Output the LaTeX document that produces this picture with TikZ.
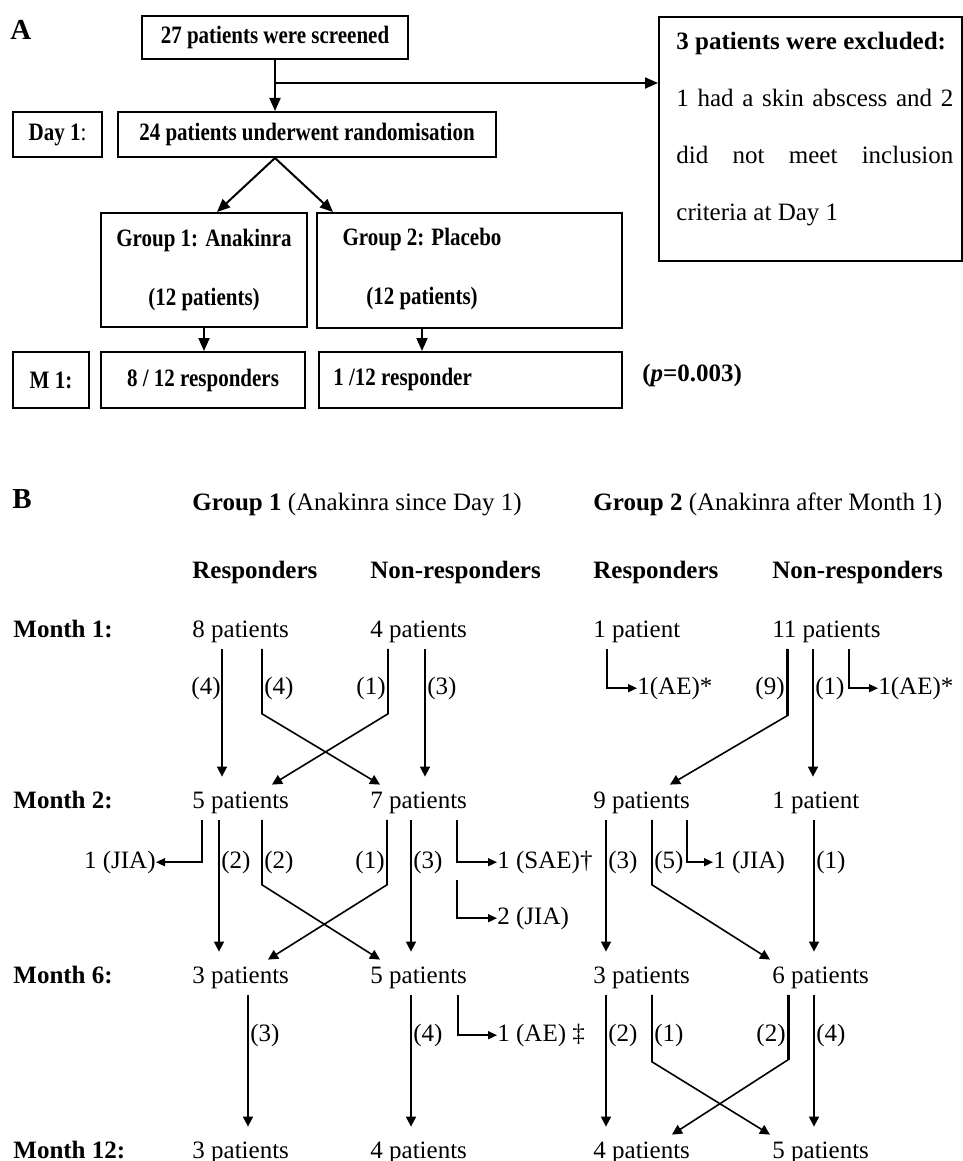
\documentclass[tikz,border=0pt]{standalone}
\usepackage{fontspec}
\setmainfont{Liberation Serif}
\newfontfamily\boxfont[FakeStretch=0.84]{Liberation Serif}
\usetikzlibrary{arrows.meta}

\begin{document}
\begin{tikzpicture}[x=0.5pt,y=-0.5pt,
    box/.style={draw,line width=1pt,inner sep=0pt,font={\fontsize{12.5}{15}\boxfont\bfseries}},
    arr/.style={line width=1pt,-{Triangle[length=6.5pt,width=5.5pt]}},
    flow/.style={line width=0.8pt,-{Triangle[length=5pt,width=5pt]}},
    straight/.style={flow,shorten >=4pt},
    side/.style={line width=0.8pt,-{Triangle[length=4.5pt,width=4pt]}},
    heavy/.style={line width=1.5pt},
    txt/.style={inner sep=0pt,font={\fontsize{12.5}{15}\selectfont}},
    pat/.style={txt,anchor=base west,inner ysep=3pt,text height=8.5pt,text depth=2.7pt},
    lbl/.style={txt,text height=8.5pt,text depth=2.7pt},
    hdr/.style={txt,anchor=base west},
    panel/.style={txt,anchor=base west,font={\fontsize{14.5}{16}\selectfont\bfseries}}]
    \useasboundingbox (0,0) rectangle (963,1161);

    % A: flow chart
    \node[panel] (labA) at (10,40) {A};
    \node[box,minimum width=133pt,minimum height=21.5pt] (screened) at (275,37.5) {27 patients were screened};
    \node[box,minimum width=44.5pt,minimum height=22.5pt] (day1) at (57.5,134.5) {Day 1\mdseries:};
    \node[box,minimum width=189pt,minimum height=22.5pt] (rand) at (307,134.5) {24 patients underwent randomisation};
    \node[box,minimum width=103pt,minimum height=57pt,align=center,
          font={\fontsize{12.5}{29.5}\boxfont\bfseries}] (grp1) at (204,270) {Group 1: Anakinra\\(12 patients)};
    \node[box,minimum width=152.5pt,minimum height=57.5pt] (grp2) at (469.5,270.5) {};
    \node[txt,align=center,font={\fontsize{12.5}{29.5}\boxfont\bfseries}] (grp2txt) at (422,268.5) {Group 2: Placebo\\(12 patients)};
    \node[box,minimum width=38pt,minimum height=28pt] (m1) at (51,380) {M 1:};
    \node[box,minimum width=102pt,minimum height=28pt] (resp1) at (203,380) {8 / 12 responders};
    \node[box,minimum width=151.5pt,minimum height=28pt] (resp2) at (470.5,380) {};
    \node[txt,anchor=west,font={\fontsize{12.5}{15}\boxfont\bfseries}] (resp2txt) at (333,379) {1 /12 responder};
    \node[hdr,font={\fontsize{12.5}{15}\selectfont\bfseries}] (pval) at (642,381) {(\textit{p}=0.003)};
    \node[box,anchor=north west,minimum width=151.5pt,minimum height=122pt] (excl) at (658,16) {};
    \node[txt,anchor=north west,text width=138.5pt,align=justify,
          font={\fontsize{12.5}{28.5}\selectfont}] (excltxt) at (676,32)
          {\textbf{3 patients were excluded:}\\1 had a skin abscess and 2\linebreak did not meet inclusion\linebreak criteria at Day 1};

    \coordinate (split) at (screened.south |- 0,83);
    \draw[arr] (screened.south) -- (screened.south |- rand.north);
    \draw[arr] (split) -- (split -| excl.west);
    \draw[arr] (screened.south |- rand.south) -- (217,0 |- grp1.north);
    \draw[arr] (screened.south |- rand.south) -- (333,0 |- grp2.north);
    \draw[arr] (grp1.south) -- (grp1.south |- resp1.north);
    \draw[arr] (grp2txt.south |- grp2.south) -- (grp2txt.south |- resp2.north);

    % B: follow-up
    \node[panel] (labB) at (12,508) {B};
    \node[hdr] (hd1) at (192,510) {\textbf{Group 1} (Anakinra since Day 1)};
    \node[hdr] (hd2) at (593,510) {\textbf{Group 2} (Anakinra after Month 1)};
    \node[hdr] (r1) at (192,578) {\textbf{Responders}};
    \node[hdr] (nr1) at (370,578) {\textbf{Non-responders}};
    \node[hdr] (r2) at (593,578) {\textbf{Responders}};
    \node[hdr] (nr2) at (772,578) {\textbf{Non-responders}};

    \node[hdr] (mo1) at (13,637) {\textbf{Month 1:}};
    \node[hdr] (mo2) at (13,808) {\textbf{Month 2:}};
    \node[hdr] (mo6) at (13,983) {\textbf{Month 6:}};
    \node[hdr] (mo12) at (13,1158) {\textbf{Month 12:}};

    \node[pat] (a1) at (192,637) {8 patients};
    \node[pat] (b1) at (370,637) {4 patients};
    \node[pat] (c1) at (593,637) {1 patient};
    \node[pat] (d1) at (772,637) {11 patients};
    \node[pat] (a2) at (192,808) {5 patients};
    \node[pat] (b2) at (370,808) {7 patients};
    \node[pat] (c2) at (593,808) {9 patients};
    \node[pat] (d2) at (772,808) {1 patient};
    \node[pat] (a6) at (192,983) {3 patients};
    \node[pat] (b6) at (370,983) {5 patients};
    \node[pat] (c6) at (593,983) {3 patients};
    \node[pat] (d6) at (772,983) {6 patients};
    \node[pat] (a12) at (192,1158) {3 patients};
    \node[pat] (b12) at (370,1158) {4 patients};
    \node[pat] (c12) at (593,1158) {4 patients};
    \node[pat] (d12) at (772,1158) {5 patients};

    % month 1 -> month 2
    \draw[straight] (222,0 |- a1.south) -- (222,0 |- a2.north);
    \draw[flow] (262,0 |- a1.south) -- ++(0,65) -- (380,0 |- b2.north);
    \draw[flow] (388,0 |- b1.south) -- ++(0,65) -- (272,0 |- a2.north);
    \draw[straight] (425,0 |- b1.south) -- (425,0 |- b2.north);
    \node[lbl,anchor=base east] (n1a) at (221,694) {(4)};
    \node[lbl,anchor=base west] (n1b) at (264,694) {(4)};
    \node[lbl,anchor=base east] (n1c) at (386,694) {(1)};
    \node[lbl,anchor=base west] (n1d) at (427,694) {(3)};

    \node[lbl,anchor=base west] (ae1) at (637,694) {1(AE)*};
    \node[lbl,anchor=base west] (ae2) at (878,694) {1(AE)*};
    \draw[side] (607,0 |- c1.south) |- (ae1.west);
    \draw[flow] (787,0 |- d1.south) -- ++(0,67) -- (670,0 |- c2.north);
    \draw[heavy] (787,0 |- d1.south) -- ++(0,67);
    \draw[straight] (813,0 |- d1.south) -- (813,0 |- d2.north);
    \draw[side] (849,0 |- d1.south) |- (ae2.west);
    \node[lbl,anchor=base east] (n1e) at (785,694) {(9)};
    \node[lbl,anchor=base west] (n1f) at (815,694) {(1)};

    % month 2 -> month 6
    \node[lbl,anchor=base east] (jia1) at (156,868) {1 (JIA)};
    \node[lbl,anchor=base west] (sae) at (497,868) {1 (SAE)†};
    \node[lbl,anchor=base west] (jia2) at (497,924) {2 (JIA)};
    \node[lbl,anchor=base west] (jia3) at (713,868) {1 (JIA)};
    \coordinate (jia2top) at (457,880);
    \draw[side] (202,0 |- a2.south) |- (jia1.east);
    \draw[straight] (219,0 |- a2.south) -- (219,0 |- a6.north);
    \draw[flow] (262,0 |- a2.south) -- ++(0,65) -- (380,0 |- b6.north);
    \draw[flow] (387,0 |- b2.south) -- ++(0,65) -- (268,0 |- a6.north);
    \draw[straight] (411,0 |- b2.south) -- (411,0 |- b6.north);
    \draw[side] (457,0 |- b2.south) |- (sae.west);
    \draw[side] (jia2top) |- (jia2.west);
    \node[lbl,anchor=base west] (n2a) at (221,868) {(2)};
    \node[lbl,anchor=base west] (n2b) at (264,868) {(2)};
    \node[lbl,anchor=base east] (n2c) at (385,868) {(1)};
    \node[lbl,anchor=base west] (n2d) at (413,868) {(3)};

    \draw[straight] (606,0 |- c2.south) -- (606,0 |- c6.north);
    \draw[flow] (652,0 |- c2.south) -- ++(0,65) -- (770,0 |- d6.north);
    \draw[side] (687,0 |- c2.south) |- (jia3.west);
    \draw[straight] (814,0 |- d2.south) -- (814,0 |- d6.north);
    \node[lbl,anchor=base west] (n2e) at (608,868) {(3)};
    \node[lbl,anchor=base west] (n2f) at (654,868) {(5)};
    \node[lbl,anchor=base west] (n2g) at (816,868) {(1)};

    % month 6 -> month 12
    \node[lbl,anchor=base west] (ae3) at (497,1041) {1 (AE) ‡};
    \draw[straight] (248,0 |- a6.south) -- (248,0 |- a12.north);
    \draw[straight] (411,0 |- b6.south) -- (411,0 |- b12.north);
    \draw[side] (458,0 |- b6.south) |- (ae3.west);
    \node[lbl,anchor=base west] (n6a) at (250,1041) {(3)};
    \node[lbl,anchor=base west] (n6b) at (413,1041) {(4)};

    \draw[straight] (606,0 |- c6.south) -- (606,0 |- c12.north);
    \draw[flow] (652,0 |- c6.south) -- ++(0,67) -- (770,0 |- d12.north);
    \draw[flow] (788,0 |- d6.south) -- ++(0,65) -- (672,0 |- c12.north);
    \draw[heavy] (788,0 |- d6.south) -- ++(0,65);
    \draw[straight] (814,0 |- d6.south) -- (814,0 |- d12.north);
    \node[lbl,anchor=base west] (n6c) at (608,1041) {(2)};
    \node[lbl,anchor=base west] (n6d) at (654,1041) {(1)};
    \node[lbl,anchor=base east] (n6e) at (786,1041) {(2)};
    \node[lbl,anchor=base west] (n6f) at (816,1041) {(4)};
\end{tikzpicture}
\end{document}
